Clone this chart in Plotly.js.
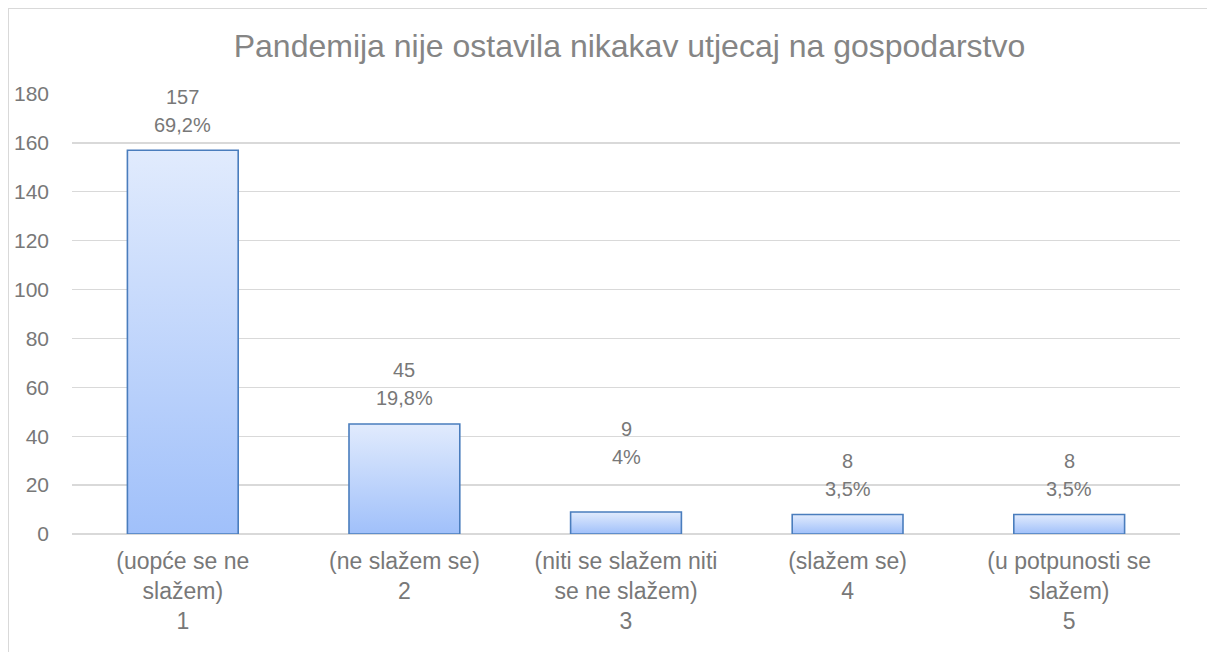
<!DOCTYPE html>
<html>
<head>
<meta charset="utf-8">
<script src="https://cdn.plot.ly/plotly-3.0.1.min.js"></script>
<style>
  html, body { margin: 0; padding: 0; background: #fff; }
  #wrap { position: relative; width: 1207px; height: 652px; overflow: hidden; }
  #frame { position: absolute; left: 8px; top: 8px; width: 1300px; height: 800px; border: 1px solid #d9d9d9; box-sizing: border-box; pointer-events: none; }
  #chart { position: absolute; left: 0; top: 0; width: 1207px; height: 652px; }
</style>
</head>
<body>
<div id="wrap">
  <div id="chart"></div>
  <div id="frame"></div>
</div>
<script>
// ---- data ----
const categories = [
  "(uopće se ne<br>slažem)<br>1",
  "(ne slažem se)<br>2",
  "(niti se slažem niti<br>se ne slažem)<br>3",
  "(slažem se)<br>4",
  "(u potpunosti se<br>slažem)<br>5"
];
const counts = [157, 45, 9, 8, 8];
const percentLabels = ["69,2%", "19,8%", "4%", "3,5%", "3,5%"];
const yTicks = [0, 20, 40, 60, 80, 100, 120, 140, 160, 180];

// label offsets (pixels above bar top) as placed in the original
const pctShift = [25, 26, 55, 25, 25];
const lineGap = 28;

const textColor = "#787878";
const annotations = [];
categories.forEach((c, i) => {
  annotations.push({
    x: c, y: counts[i], xref: "x", yref: "y",
    text: String(counts[i]), showarrow: false,
    yanchor: "middle", yshift: pctShift[i] + lineGap,
    font: {family: "Liberation Sans, Arial, sans-serif", size: 20, color: textColor}
  });
  annotations.push({
    x: c, y: counts[i], xref: "x", yref: "y",
    text: percentLabels[i], showarrow: false,
    yanchor: "middle", yshift: pctShift[i],
    font: {family: "Liberation Sans, Arial, sans-serif", size: 20, color: textColor}
  });
});

const trace = {
  type: "bar",
  x: categories,
  y: counts,
  marker: {color: "#c3d7fb", line: {color: "#4a7dbd", width: 1.6}},
  hoverinfo: "skip"
};

const layout = {
  width: 1207, height: 652,
  margin: {l: 72, r: 27, t: 94, b: 118, pad: 0},
  paper_bgcolor: "rgba(0,0,0,0)",
  plot_bgcolor: "rgba(0,0,0,0)",
  bargap: 0.5,
  showlegend: false,
  title: {
    text: "Pandemija nije ostavila nikakav utjecaj na gospodarstvo",
    font: {family: "Liberation Sans, Arial, sans-serif", size: 32, color: "#858585"},
    x: 629.5 / 1207, xref: "container", xanchor: "center",
    y: 1 - 46 / 652, yref: "container", yanchor: "middle"
  },
  xaxis: {
    type: "category",
    showgrid: false, showline: false, zeroline: false,
    ticks: "", ticklabelstandoff: 11,
    tickfont: {family: "Liberation Sans, Arial, sans-serif", size: 23, color: textColor},
    fixedrange: true
  },
  yaxis: {
    range: [0, 180],
    tickvals: yTicks,
    ticktext: yTicks.map(String),
    showgrid: true, gridcolor: "#d9d9d9", gridwidth: 1.3,
    zeroline: true, zerolinecolor: "#d9d9d9", zerolinewidth: 1.3,
    showline: false, ticks: "", ticklabelstandoff: 22,
    tickfont: {family: "Liberation Sans, Arial, sans-serif", size: 21, color: textColor},
    fixedrange: true
  },
  annotations: annotations
};

Plotly.newPlot("chart", [trace], layout, {displayModeBar: false, staticPlot: true}).then(gd => {
  const svg = gd.querySelector("svg.main-svg");
  const ns = "http://www.w3.org/2000/svg";
  let defs = svg.querySelector("defs");
  if (!defs) { defs = document.createElementNS(ns, "defs"); svg.insertBefore(defs, svg.firstChild); }
  const grad = document.createElementNS(ns, "linearGradient");
  grad.setAttribute("id", "barGrad");
  grad.setAttribute("x1", "0"); grad.setAttribute("y1", "0");
  grad.setAttribute("x2", "0"); grad.setAttribute("y2", "1");
  [["0", "#e1ebfd"], ["1", "#a0c0fa"]].forEach(([o, c]) => {
    const s = document.createElementNS(ns, "stop");
    s.setAttribute("offset", o); s.setAttribute("stop-color", c);
    grad.appendChild(s);
  });
  defs.appendChild(grad);
  gd.querySelectorAll(".barlayer .point path").forEach(p => {
    p.style.fill = "url(#barGrad)";
  });
});
</script>
</body>
</html>
